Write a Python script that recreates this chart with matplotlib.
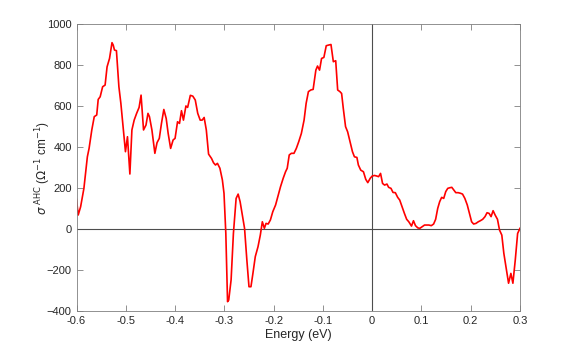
import matplotlib
matplotlib.use('Agg')
from matplotlib import pyplot as plt

# energie (eV) et conductivite de Hall anomale
energy = [
    -0.600, -0.5966, -0.5917, -0.585, -0.578, -0.5745, -0.569, -0.564, -0.559, -0.556,
    -0.552, -0.547, -0.542, -0.538, -0.533, -0.528, -0.5255, -0.523, -0.519, -0.514,
    -0.510, -0.5055, -0.5007, -0.4966, -0.4917, -0.4876, -0.483, -0.478, -0.473, -0.469,
    -0.464, -0.459, -0.455, -0.452, -0.447, -0.441, -0.4366, -0.432, -0.4276, -0.4228,
    -0.418, -0.414, -0.409, -0.404, -0.400, -0.395, -0.391, -0.387, -0.383, -0.378,
    -0.3745, -0.369, -0.364, -0.359, -0.354, -0.349, -0.345, -0.341, -0.3366, -0.332,
    -0.326, -0.322, -0.318, -0.314, -0.309, -0.304, -0.3007, -0.297, -0.2935, -0.2911,
    -0.2863, -0.2816, -0.2761, -0.272, -0.268, -0.263, -0.259, -0.2543, -0.250, -0.246,
    -0.242, -0.2372, -0.2317, -0.227, -0.2229, -0.2188, -0.2154, -0.211, -0.2065, -0.2017,
    -0.196, -0.1915, -0.186, -0.1806, -0.1758, -0.1724, -0.1683, -0.164, -0.1587, -0.1539,
    -0.149, -0.1437, -0.1382, -0.134, -0.1294, -0.1246, -0.1198, -0.1143, -0.1109, -0.1068,
    -0.1027, -0.098, -0.0932, -0.089, -0.0836, -0.0788, -0.074, -0.070, -0.0654, -0.062,
    -0.0586, -0.054, -0.0498, -0.045, -0.040, -0.036, -0.031, -0.028, -0.0232, -0.0177,
    -0.013, -0.0089, -0.004, 0.0, 0.0048, 0.0095, 0.013, 0.017, 0.0211, 0.0252,
    0.030, 0.0334, 0.0382, 0.0423, 0.047, 0.0518, 0.0559, 0.0607, 0.0654, 0.070,
    0.0743, 0.0798, 0.0838, 0.0879, 0.0927, 0.0968, 0.1016, 0.1063, 0.111, 0.115,
    0.120, 0.1247, 0.1288, 0.133, 0.137, 0.141, 0.1452, 0.1493, 0.1534, 0.1575,
    0.1616, 0.1656, 0.1697, 0.1745, 0.1793, 0.1834, 0.1881, 0.193, 0.197, 0.2018,
    0.2059, 0.2106, 0.2154, 0.2195, 0.2243, 0.229, 0.2331, 0.2372, 0.2413, 0.2454,
    0.2495, 0.2543, 0.2584, 0.2631, 0.2672, 0.272, 0.2768, 0.2815, 0.2856, 0.2904,
    0.2952, 0.300,
]
sigma = [
    146, 70, 110, 200, 354, 395, 485, 550, 558, 634,
    647, 696, 704, 793, 834, 911, 899, 875, 872, 696,
    615, 501, 379, 452, 270, 485, 533, 566, 595, 655,
    485, 509, 566, 550, 485, 371, 423, 444, 517, 585,
    541, 468, 395, 436, 444, 525, 517, 579, 533, 602,
    595, 654, 650, 631, 566, 533, 533, 546, 485, 367,
    346, 325, 314, 322, 298, 241, 176, -20, -353, -345,
    -247, -20, 151, 172, 135, 62, 5, -150, -280, -280,
    -215, -133, -85, -28, 37, 5, 29, 26, 46, 86,
    119, 159, 208, 249, 281, 298, 363, 371, 371, 395,
    428, 468, 533, 615, 672, 680, 683, 777, 797, 777,
    834, 839, 896, 899, 902, 818, 823, 680, 672, 663,
    590, 501, 476, 428, 379, 354, 351, 314, 289, 281,
    244, 228, 249, 260, 263, 260, 257, 273, 224, 216,
    221, 205, 200, 180, 179, 156, 143, 110, 78, 49,
    37, 16, 42, 18, 7, 5, 13, 21, 21, 21,
    18, 26, 49, 102, 135, 156, 151, 184, 200, 203,
    205, 192, 179, 179, 176, 172, 151, 119, 81, 37,
    26, 29, 37, 42, 49, 62, 81, 78, 62, 91,
    70, 49, -3, -28, -117, -190, -263, -215, -263, -150,
    -20, 5,
]

x_ticks = [-0.6, -0.5, -0.4, -0.3, -0.2, -0.1, 0, 0.1, 0.2, 0.3]
x_labels = ['-0.6', '-0.5', '-0.4', '-0.3', '-0.2', '-0.1', '0', '0.1', '0.2', '0.3']
y_ticks = [-400, -200, 0, 200, 400, 600, 800, 1000]

plt.rcParams['font.family'] = ['Liberation Sans', 'DejaVu Sans']
plt.rcParams['mathtext.fontset'] = 'dejavusans'

fig = plt.figure(figsize=(5.81, 3.49), dpi=100)
ax = fig.add_axes([0.1317, 0.108, 0.7633, 0.822])

axis_color = '#262626'
ax.axhline(0, color='#4d4d4d', linewidth=0.8)
ax.axvline(0, color='#4d4d4d', linewidth=0.8)
ax.plot(energy, sigma, color='red', linewidth=1.2)

ax.set_xlim(-0.6, 0.3)
ax.set_ylim(-400, 1000)
ax.set_xticks(x_ticks)
ax.set_xticklabels(x_labels)
ax.set_yticks(y_ticks)

for s in ax.spines.values():
    s.set_color('#7f7f7f')
    s.set_linewidth(0.6)
ax.tick_params(direction='in', top=True, right=True, length=4, width=0.6,
               color='#7f7f7f', labelsize=8, labelcolor=axis_color)

ax.set_xlabel('Energy (eV)', fontsize=9, color=axis_color, labelpad=2)
ax.set_ylabel(r'$\sigma^{\ \mathrm{AHC}}$ ($\Omega^{-1}$ cm$^{-1}$)', fontsize=8.5,
              color=axis_color)
ax.yaxis.set_label_coords(-0.053, 0.5)

plt.savefig('out.png', dpi=100)
plt.close()
